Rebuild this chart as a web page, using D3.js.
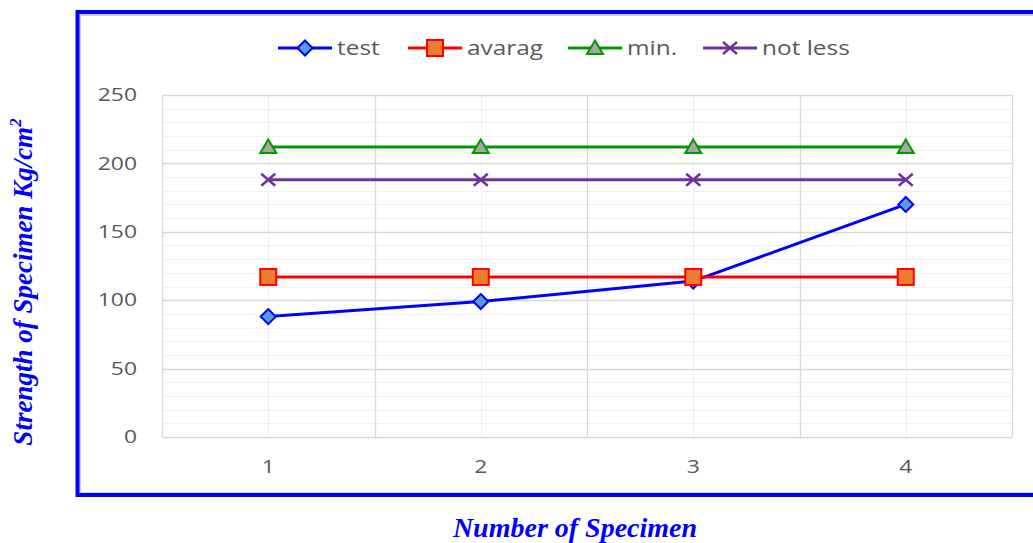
<!DOCTYPE html>
<html><head><meta charset="utf-8">
<script src="https://cdn.jsdelivr.net/npm/d3@7"></script>
<style>body{margin:0;background:#fff}svg{display:block}</style>
</head><body>
<svg id="c" width="1033" height="543"></svg>
<script>
const categories = ["1", "2", "3", "4"];
const testValues = [88, 99, 114, 170];
const avaragValues = [117, 117, 117, 117];
const minValues = [212, 212, 212, 212];
const notLessValues = [188, 188, 188, 188];
const yTicks = [0, 50, 100, 150, 200, 250];
const seriesNames = ["test", "avarag", "min.", "not less"];

const svg = d3.select("#c");
const m = {left: 162, right: 1012, top: 95, bottom: 437};
const SX = 1.27; // horizontal stretch of the sans labels

// frame
svg.append("rect").attr("x", 80).attr("y", 15).attr("width", 960).attr("height", 478)
  .attr("fill", "none").attr("stroke", "#d0d0d0").attr("stroke-width", 2);
svg.append("rect").attr("x", 77.5).attr("y", 12).attr("width", 970).attr("height", 483)
  .attr("fill", "none").attr("stroke", "#0000ff").attr("stroke-width", 4);

const x = d3.scaleBand().domain(categories).range([m.left, m.right]);
const y = d3.scaleLinear().domain([0, 250]).range([m.bottom, m.top]);

const g = svg.append("g");
g.selectAll(".minor").data(d3.range(0, 251, 10).filter(v => v % 50 !== 0)).join("line")
  .attr("x1", m.left).attr("x2", m.right).attr("y1", d => Math.round(y(d)) + 0.5).attr("y2", d => Math.round(y(d)) + 0.5)
  .attr("stroke", "#f0f0f0").attr("stroke-width", 1);
g.selectAll(".vminor").data(categories).join("line")
  .attr("x1", d => Math.round(x(d) + x.bandwidth() / 2) + 0.5).attr("x2", d => Math.round(x(d) + x.bandwidth() / 2) + 0.5)
  .attr("y1", m.top).attr("y2", m.bottom).attr("stroke", "#efefef");
g.selectAll(".major").data(yTicks).join("line")
  .attr("x1", m.left).attr("x2", m.right).attr("y1", d => Math.round(y(d)) + 0.5).attr("y2", d => Math.round(y(d)) + 0.5)
  .attr("stroke", "#d9d9d9").attr("stroke-width", 1.3);
g.selectAll(".vmajor").data(categories.concat(["end"])).join("line")
  .attr("x1", (d, i) => Math.round(m.left + i * x.bandwidth()) + 0.5)
  .attr("x2", (d, i) => Math.round(m.left + i * x.bandwidth()) + 0.5)
  .attr("y1", m.top).attr("y2", m.bottom).attr("stroke", "#d9d9d9").attr("stroke-width", 1.3);

const yAxis = d3.axisLeft(y).tickValues(yTicks).tickSize(0).tickPadding(25);
const ya = svg.append("g").attr("transform", `translate(${m.left},0)`).call(yAxis);
ya.select(".domain").remove();
ya.selectAll("text").attr("font-family", "Open Sans, sans-serif").attr("font-size", 18).attr("fill", "#595959")
  .attr("x", -25 / SX).attr("transform", `scale(${SX},1)`);

const xAxis = d3.axisBottom(x).tickSize(0).tickPadding(23);
const xa = svg.append("g").attr("transform", `translate(0,${m.bottom})`).call(xAxis);
xa.select(".domain").remove();
xa.selectAll("text").attr("font-family", "Open Sans, sans-serif").attr("font-size", 18).attr("fill", "#595959")
  .attr("transform", `scale(${SX},1)`);

const cx = d => x(d) + x.bandwidth() / 2;

const series = [
  {name: seriesNames[0], values: testValues, color: "#0000ff", marker: "diamond", fill: "#5b9bd5"},
  {name: seriesNames[1], values: avaragValues, color: "#ff0000", marker: "square", fill: "#ed7d31"},
  {name: seriesNames[2], values: minValues, color: "#009900", marker: "triangle", fill: "#a5a5a5"},
  {name: seriesNames[3], values: notLessValues, color: "#7030a0", marker: "x", fill: "none"}
];

function drawMarker(sel, type, color, fill) {
  if (type === "diamond") {
    sel.append("path").attr("d", "M0,-7.5L7.5,0L0,7.5L-7.5,0Z").attr("fill", fill).attr("stroke", color).attr("stroke-width", 2);
  } else if (type === "square") {
    sel.append("rect").attr("x", -8).attr("y", -8).attr("width", 16).attr("height", 16).attr("fill", fill).attr("stroke", color).attr("stroke-width", 2);
  } else if (type === "triangle") {
    sel.append("path").attr("d", "M0,-7.5L8,6L-8,6Z").attr("fill", fill).attr("stroke", color).attr("stroke-width", 2);
  } else {
    sel.append("path").attr("d", "M-7,-6L7,6M-7,6L7,-6").attr("stroke", color).attr("stroke-width", 2.5).attr("fill", "none");
  }
}

const line = d3.line().x((d, i) => cx(categories[i])).y(d => y(d));
series.forEach(s => {
  svg.append("path").datum(s.values).attr("d", line).attr("fill", "none")
    .attr("stroke", s.color).attr("stroke-width", 3);
  s.values.forEach((v, i) => {
    const mg = svg.append("g").attr("transform", `translate(${cx(categories[i])},${y(v)})`);
    drawMarker(mg, s.marker, s.color, s.fill);
  });
});

// legend
const legendX = [278, 408, 568, 703];
series.forEach((s, i) => {
  const lg = svg.append("g").attr("transform", `translate(${legendX[i]},48)`);
  lg.append("line").attr("x1", 0).attr("x2", 54).attr("stroke", s.color).attr("stroke-width", 3);
  const mg = lg.append("g").attr("transform", "translate(27,0)");
  drawMarker(mg, s.marker, s.color, s.fill);
  lg.append("text").attr("transform", `translate(59,7) scale(1.22,1)`).text(s.name)
    .attr("font-family", "Open Sans, sans-serif").attr("font-size", 20).attr("fill", "#595959");
});

// axis titles
svg.append("text").attr("transform", "translate(32,282) rotate(-90)").attr("text-anchor", "middle")
  .attr("font-family", "Liberation Serif, Times New Roman, serif").attr("font-weight", "bold").attr("font-style", "italic")
  .attr("font-size", 27).attr("fill", "#0000ff")
  .call(t => { t.append("tspan").text("Strength of Specimen Kg/cm"); t.append("tspan").attr("dy", -11).attr("font-size", 17).text("2"); });

svg.append("text").attr("x", 575).attr("y", 537).attr("text-anchor", "middle")
  .attr("font-family", "Liberation Serif, Times New Roman, serif").attr("font-weight", "bold").attr("font-style", "italic")
  .attr("font-size", 28).attr("fill", "#0000ff").text("Number of Specimen");
</script>
</body></html>
